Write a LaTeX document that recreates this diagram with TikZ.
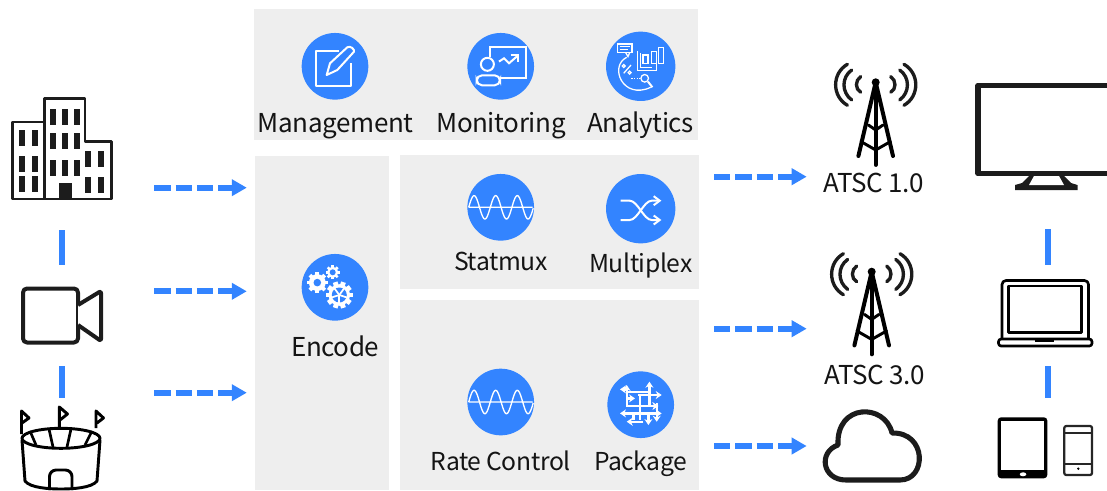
\documentclass[tikz,border=0pt]{standalone}
\usepackage{fontspec}
\setmainfont[LetterSpace=-1.5]{Noto Sans CJK SC}
\usetikzlibrary{arrows.meta}
\definecolor{flowblue}{HTML}{3384FF}
\definecolor{panelgray}{HTML}{EEEEEE}
\definecolor{inkblack}{HTML}{1C1C1C}
\newcommand{\gearicon}[4]{% x, y, radius, teeth
    \pgfmathsetmacro{\gearstep}{360/#4}
    \foreach \a in {1,...,#4} {
        \draw [white,line width=#3*0.27pt] (#1,#2) -- ++(\a*\gearstep:#3);
    }
    \fill [white] (#1,#2) circle (#3*0.8);
}
\begin{document}
\begin{tikzpicture}[x=0.75pt,y=-0.75pt]
    \tikzset{
        panel/.style={fill=panelgray},
        badge/.style={circle,fill=flowblue,inner sep=0pt,minimum size=50pt},
        bigbadge/.style={badge,minimum size=52pt},
        caption/.style={anchor=base,inner sep=0pt,text=black!92,font=\fontsize{19.5pt}{22pt}\selectfont},
        smallcaption/.style={caption,font=\fontsize{18.5pt}{20pt}\selectfont},
        flow/.style={draw=flowblue,line width=4.5pt,dash pattern=on 12.2pt off 3.8pt,
            -{Triangle[length=11.25pt,width=12pt,fill=flowblue]}},
        link/.style={draw=flowblue,line width=4.2pt},
        glyph/.style={draw=white,line width=1.5pt},
        thinglyph/.style={draw=white,line width=0.95pt},
        ink/.style={draw=inkblack,line width=3pt,line join=round},
        iconbox/.style={inner sep=0pt,outer sep=0pt},
    }
    \useasboundingbox (0,0) rectangle (1107,490);
    \def\wavepath{plot[domain=-32:32.5,samples=90,smooth] (\x,{-11.7*sin(16.67*(\x+32))}) (-32,0) -- (32,0)}

    % panels
    \fill [panel] (254,9) rectangle (698,140);
    \fill [panel] (255,156) rectangle (389,490);
    \fill [panel] (400,155) rectangle (699,289);
    \fill [panel] (400,300) rectangle (699,490);

    % badges and their captions
    \node [badge] (management) at (335,66.3) {};
    \node [badge] (monitoring) at (500.7,66.3) {};
    \node [bigbadge] (analytics) at (640.7,66.3) {};
    \node [badge] (encode) at (335,287.3) {};
    \node [badge] (statmux) at (500.7,207.3) {};
    \node [bigbadge] (multiplex) at (640.7,208.7) {};
    \node [badge] (ratecontrol) at (500.7,402) {};
    \node [badge] (package) at (640.7,404.7) {};
    \node [caption] (managementtext) at (335.5,132.5) {Management};
    \node [caption] (monitoringtext) at (501,132.5) {Monitoring};
    \node [caption] (analyticstext) at (640.7,132.5) {Analytics};
    \node [caption] (encodetext) at (335.3,356.5) {Encode};
    \node [smallcaption] (statmuxtext) at (501,270) {Statmux};
    \node [smallcaption] (multiplextext) at (640.7,272.7) {Multiplex};
    \node [smallcaption] (ratecontroltext) at (500.7,470) {Rate Control};
    \node [smallcaption] (packagetext) at (640.7,470) {Package};
    \node [caption] (atsconetext) at (873.5,192.3) {ATSC 1.0};
    \node [caption] (atscthreetext) at (875,384) {ATSC 3.0};

    % management
    \begin{scope}[shift={(management.center)}]
        \draw [glyph,line join=round] (4,-15.3) -- (-19.3,-15.3) -- (-19.3,19.7) -- (16,19.7) -- (16,-3);
        \draw [glyph,line join=round] (-8.3,8.7) -- (-5,-3) -- (12.3,-19) .. controls (15,-21) and (20,-17) .. (19,-14.6) -- (2.3,3.7) -- cycle;
    \end{scope}
    % monitoring
    \begin{scope}[shift={(monitoring.center)}]
        \draw [glyph] (-10.7,-9) -- (-10.7,-19) -- (25,-19) -- (25,11.3) -- (0,11.3);
        \draw [glyph] (-1.7,-4.7) -- (3.3,-8) -- (8.3,-3) -- (16.7,-10.3);
        \draw [glyph] (10,-11) -- (17,-11) -- (17,-4);
        \draw [glyph] (-13.3,-2) circle (6.5);
        \draw [glyph,rounded corners=4pt] (-24,19) -- (-24,9) -- (-0.7,9) -- (-0.7,19) -- cycle;
    \end{scope}
    % analytics
    \begin{scope}[shift={(analytics.center)}]
        \draw [thinglyph] (-23.3,-22.3) rectangle (-8.7,-13.7);
        \draw [thinglyph] (-21,-19.5) -- (-11,-19.5) (-21,-16.8) -- (-13,-16.8);
        \draw [thinglyph] (-11,-13.7) -- (-12.7,-9.7) -- (-15,-13.7);
        \draw [thinglyph] (2.3,-11.3) rectangle (7.3,-3);
        \draw [thinglyph] (10.7,-14.7) rectangle (15.7,-3);
        \draw [thinglyph] (18,-19) rectangle (23,-3);
        \draw [thinglyph] (-3.3,-15.7) -- (-3.3,4) -- (15.7,4) -- (15.7,-3);
        \draw [thinglyph] (-0.5,-13) -- (-0.5,1) -- (11,1);
        \draw [thinglyph] (-14,-9) .. controls (-32,0) and (-18,34) .. (10,21);
        \draw [thinglyph] (-9.7,-1.3) -- (-17,7) (-17,-0.3) circle (1.5) (-11,6.3) circle (1.5);
        \draw [thinglyph,densely dotted] (-9.3,12) -- (-1,12);
        \draw [thinglyph] (4,12) circle (3.8);
        \draw [glyph] (7.3,15.3) -- (11.7,21);
    \end{scope}
    % encode
    \begin{scope}[shift={(encode.center)}]
        \gearicon{-17.7}{-4.7}{10.5}{8}
        \gearicon{-2.3}{-15}{7}{8}
        \gearicon{4.3}{7.7}{13.5}{10}
        \fill [flowblue] (-17.7,-4.7) circle (3.8);
        \fill [flowblue] (-2.3,-15) circle (3);
        \fill [flowblue] (4.3,7.7) circle (7.5);
        \foreach \a in {18,90,162,234,306} {
            \draw [white,line width=1.3pt] (4.3,7.7) -- ++(\a:8);
        }
    \end{scope}
    % statmux and rate control
    \foreach \n in {statmux,ratecontrol} {
        \begin{scope}[shift={(\n.center)}]
            \draw [white,line width=1pt] \wavepath;
        \end{scope}
    }
    % multiplex
    \begin{scope}[shift={(multiplex.center)}]
        \draw [glyph] (-20,-8) -- (-11,-8) .. controls (-3,-8) and (3,11.3) .. (11,11.3) -- (18.5,11.3);
        \draw [glyph] (-20,11.3) -- (-11,11.3) .. controls (-3,11.3) and (3,-8) .. (11,-8) -- (18.5,-8);
        \draw [glyph] (13,-12.5) -- (19,-8) -- (13,-3.5);
        \draw [glyph] (13,6.8) -- (19,11.3) -- (13,15.8);
    \end{scope}
    % package
    \begin{scope}[shift={(package.center)},line width=1.8pt,>={Stealth[length=4.5pt,width=6pt]}]
        \draw [white,->] (-14,2) -- (-14,-19.7);
        \draw [white,->] (-14,-15.3) -- (-20.7,-15.3);
        \draw [white] (-14,-13) -- (8.7,-13);
        \draw [white,->] (8.7,2) -- (8.7,-23);
        \draw [white,->] (-2.3,-9.7) -- (21,-9.7);
        \draw [white,->] (-14,-6.3) -- (-5.7,-6.3);
        \draw [white,->] (-14,1.3) -- (17.7,1.3);
        \draw [white] (-0.7,-9.7) -- (-0.7,15.3);
        \draw [white,<->] (-20.7,8.7) -- (21,8.7);
        \draw [white,->] (16,-1.3) -- (16,17);
        \draw [white,->] (7.7,8.7) -- (7.7,20.3);
        \draw [white,->] (2.7,17) -- (-14,17);
        \draw [white] (-7.3,8.7) -- (-7.3,15);
    \end{scope}

    % icon boxes, the links run between them
    \node [iconbox,minimum width=75.5pt,minimum height=76.5pt] (building) at (62,149) {};
    \node [iconbox,minimum width=60pt,minimum height=44pt] (camera) at (62,316) {};
    \node [iconbox,minimum width=60pt,minimum height=64pt] (stadium) at (62,447) {};
    \node [iconbox,minimum width=60pt,minimum height=78.5pt] (monitor) at (1047.7,135) {};
    \node [iconbox,minimum width=71pt,minimum height=51pt] (laptop) at (1047.7,313) {};
    \node [iconbox,minimum width=71pt,minimum height=46pt] (devices) at (1047.7,448) {};
    \draw [link,shorten <=22.5pt,shorten >=16pt] (building.south) -- (camera.north);
    \draw [link,shorten <=15.5pt,shorten >=5pt] (camera.south) -- (stadium.north);
    \draw [link,shorten <=31.5pt,shorten >=10.5pt] (monitor.south) -- (laptop.north);
    \draw [link,shorten <=14.5pt,shorten >=14.5pt] (laptop.south) -- (devices.north);

    % building
    \draw [ink,line width=2pt,miter limit=2] (12.6,199) -- (12.6,122) -- (44.3,122) -- (44.3,98.6) -- (85,98.6) -- (85,141.3) -- (111.4,141.3) -- (111.4,199) -- cycle;
    \draw [ink,line width=2pt] (44.3,122) -- (44.3,199);
    \foreach \wx in {19,32} {
        \foreach \wy in {130,155.7,176} {
            \fill [inkblack] (\wx,\wy) rectangle ++(6.2,16);
        }
    }
    \foreach \wx in {50,62,73.7} {
        \foreach \wy in {109,133.3,160} {
            \fill [inkblack] (\wx,\wy) rectangle ++(6.4,16);
        }
    }
    \foreach \wx in {85,98} {
        \foreach \wy in {151,176.7} {
            \fill [inkblack] (\wx,\wy) rectangle ++(6,16);
        }
    }
    \fill [inkblack] (59,183) rectangle (72,199);
    % camera
    \draw [ink,rounded corners=3pt] (23,288.5) rectangle (78,342.5);
    \draw [ink,rounded corners=1.5pt,fill=white] (78,305) -- (101,291) -- (101,341) -- (78,325);
    % stadium
    \draw [ink,draw=black,line width=2.2pt] (61,438.3) ellipse (39 and 10);
    \draw [ink,draw=black,line width=2.2pt] (22,440) -- (25,481) .. controls (30,488) and (50,489) .. (61,489) .. controls (72,489) and (92,488) .. (97,481) -- (100,440);
    \draw [ink,draw=black,line width=2pt] (30,431) -- (36,445) (49,429) -- (53,447) (71,429) -- (67,447) (92,431) -- (85,445);
    \draw [ink,draw=black,line width=2.2pt,rounded corners=5pt] (49.5,490) -- (49.5,470) -- (72,470) -- (72,490);
    \draw [ink,draw=black,line width=2.2pt] (21.5,434) -- (21.5,411) -- (29,418) -- (22,423);
    \draw [ink,draw=black,line width=2.2pt] (59.3,427) -- (59.3,407) -- (67.5,414) -- (60,420);
    \draw [ink,draw=black,line width=2.2pt] (96,428) -- (96,411) -- (103.5,418) -- (97,423);

    % towers
    \foreach \n/\tx/\ty in {towerone/875.7/82.3,towerthree/871.7/271.7} {
        \begin{scope}[shift={(\tx,\ty)},line cap=round]
            \coordinate (\n) at (0,0);
            \fill [black] (0,0) circle (4);
            \draw [black,line width=3pt,line join=round] (-17.3,73.7) -- (0,0) -- (17.3,73.7);
            \draw [black,line width=2.8pt] (0,0) -- (0,82.7);
            \draw [black,line width=2.2pt] (-7.3,42.7) -- (0,47.7) -- (7.3,42.7);
            \draw [black,line width=2.2pt] (-14.7,59.3) -- (0,67.7) -- (14.7,59.3);
            \foreach \s in {-1,1} {
                \draw [inkblack,line width=2.5pt] ({\s*28.3},-18) .. controls ({\s*44},-9) and ({\s*44},14) .. ({\s*28.3},23);
                \draw [inkblack,line width=2.5pt] ({\s*24},-12.3) .. controls ({\s*34.3},-5) and ({\s*34.3},10) .. ({\s*24},17.7);
                \draw [inkblack,line width=2.5pt] ({\s*15},-5.7) .. controls ({\s*20.7},-2) and ({\s*20.7},7) .. ({\s*15},10);
            }
        \end{scope}
    }
    % cloud
    \draw [ink,line width=3.8pt] (846,480) -- (900,480) .. controls (927,480) and (927,432) .. (892,433) .. controls (885,403) and (836,403) .. (838,445) .. controls (818,452) and (822,480) .. (846,480) -- cycle;
    % monitor
    \draw [ink,line width=4.4pt] (1107,85.5) -- (978.3,85.5) -- (978.3,173.5) -- (1107,173.5);
    \fill [inkblack] (1030,175) -- (1063,175) -- (1071,183) -- (1077.5,185) -- (1077.5,190) -- (1015,190) -- (1015,185) -- (1022,183) -- cycle;
    \fill [white] (1034,176) -- (1059,176) -- (1064,185) -- (1029,185) -- cycle;
    % laptop
    \draw [ink,draw=black,line width=2pt,rounded corners=3pt] (1002,339) -- (1002,280.5) -- (1088.5,280.5) -- (1088.5,339);
    \draw [ink,draw=black,line width=2pt] (1008.5,286) rectangle (1081.5,332.5);
    \draw [ink,draw=black,line width=2pt,rounded corners=2pt] (998.5,339) rectangle (1092,346);
    \fill [black] (1035,339) rectangle (1054,342);
    % tablet and phone
    \fill [black,rounded corners=2.5pt] (997.7,417.3) rectangle (1047.3,478.3);
    \fill [white] (1001,420.7) rectangle (1044,470);
    \fill [white] (1023,474.3) ellipse (3.3 and 2);
    \draw [ink,draw=black!85,line width=1.7pt,rounded corners=1.5pt] (1064.3,426) rectangle (1092,475);
    \draw [ink,draw=black!85,line width=1.5pt] (1064.3,433) -- (1092,433) (1064.3,463.5) -- (1092,463.5);
    \fill [black] (1078.3,468.7) circle (1.3);

    % arrows
    \foreach \n/\y in {a/187.7,b/291.3,c/392.7} {
        \coordinate (in\n) at (154.3,\y);
        \coordinate (enc\n) at (246.8,\y);
        \draw [flow] (in\n) -- (enc\n);
    }
    \foreach \n/\y in {a/176.7,b/328.7,c/446} {
        \coordinate (out\n) at (714,\y);
        \coordinate (air\n) at (806.7,\y);
        \draw [flow] (out\n) -- (air\n);
    }
\end{tikzpicture}
\end{document}
